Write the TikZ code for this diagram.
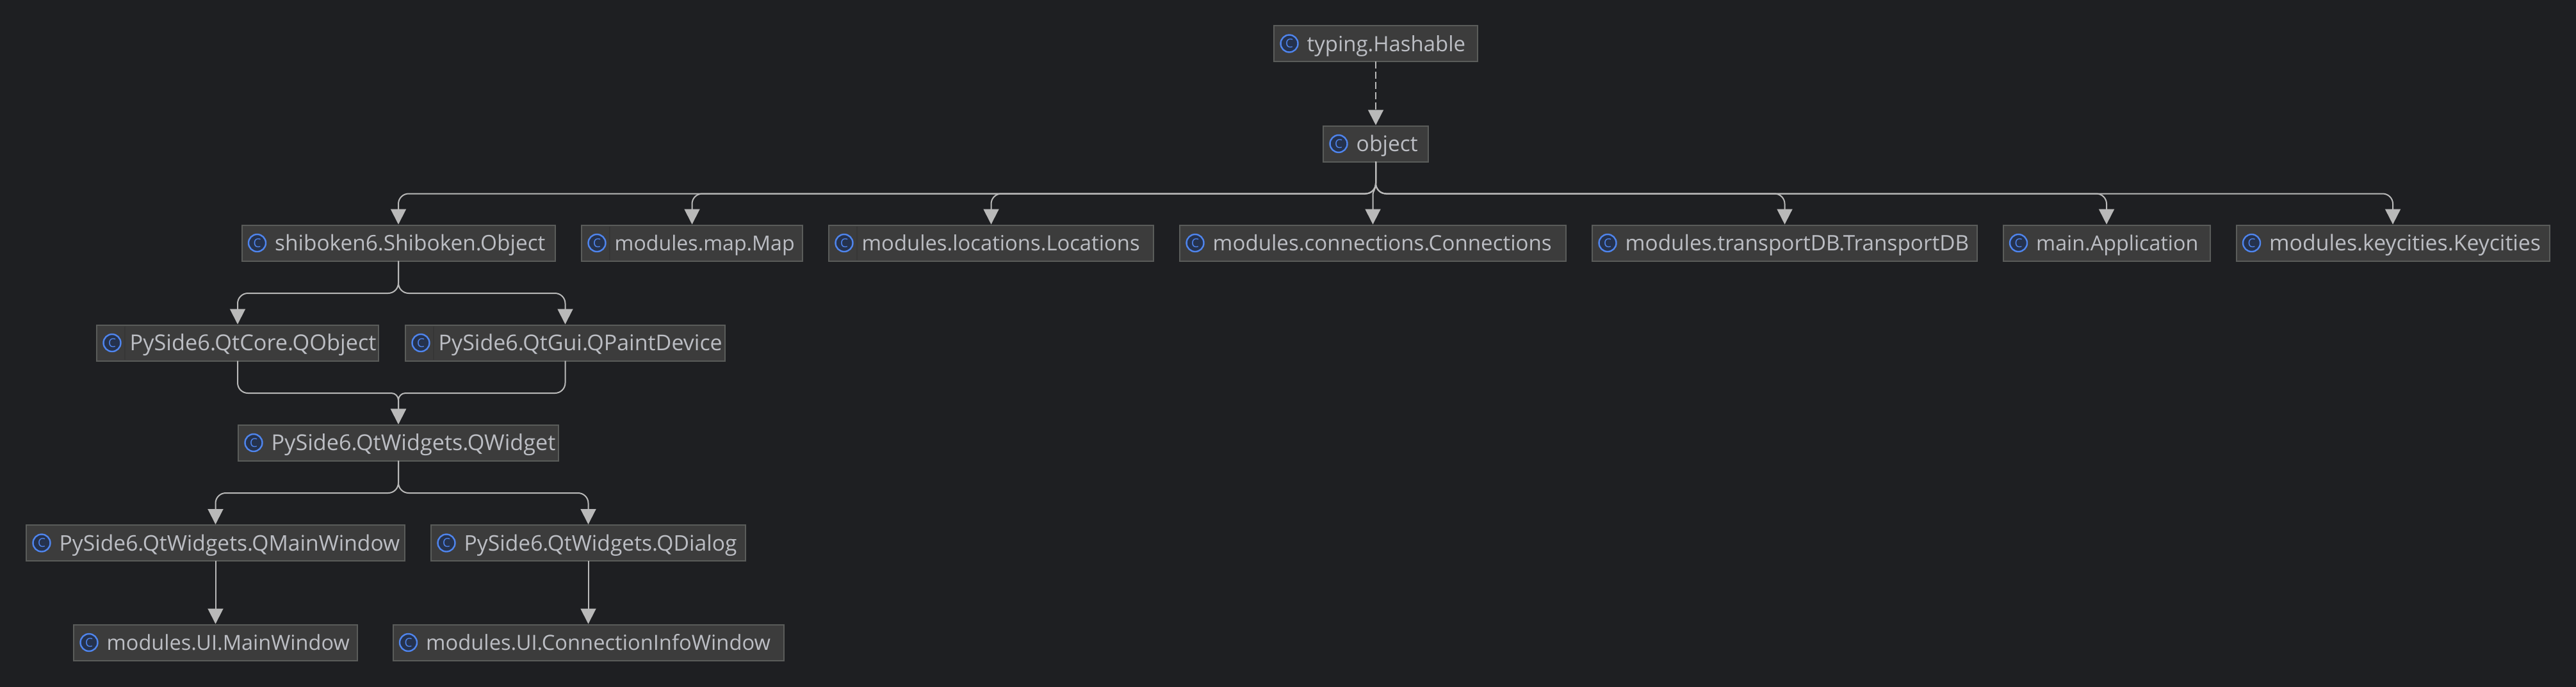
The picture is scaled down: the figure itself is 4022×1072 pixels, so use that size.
\documentclass[tikz,border=0pt]{standalone}
\usepackage{fontspec}
\setmainfont{Open Sans}
\usetikzlibrary{arrows.meta}
\definecolor{pagebg}{HTML}{1E1F22}
\definecolor{boxfill}{HTML}{3C3C3C}
\definecolor{boxline}{HTML}{5A5C5A}
\definecolor{boxsep}{HTML}{363636}
\definecolor{nametext}{HTML}{BCBEC4}
\definecolor{linkcol}{HTML}{B9B9B9}
\definecolor{iconline}{HTML}{4F85EE}
\definecolor{iconfill}{HTML}{25324D}
\tikzset{
  classbox/.style={draw=boxline,fill=boxfill,line width=2pt,minimum height=56pt,inner sep=0pt,outer sep=0pt},
  classicon/.style={circle,draw=iconline,fill=iconfill,line width=2.4pt,minimum size=27pt,inner sep=0pt,text=iconline,font=\fontsize{19}{19}\selectfont},
  classname/.style={anchor=base west,inner sep=0pt,text=nametext,font=\fontsize{#1}{38}\selectfont},
  classsep/.style={draw=boxsep,line width=1.5pt},
  extends/.style={draw=linkcol,line width=2pt,rounded corners=16pt,shorten >=1pt,-{Triangle[width=24pt,length=24pt,fill=linkcol]}},
  implements/.style={extends,dash pattern=on 11pt off 5pt}
}
\begin{document}
\begin{tikzpicture}[x=1pt,y=-1pt]
	\useasboundingbox (0,0) rectangle (4022,1072);
	\fill[pagebg] (-5,-5) rectangle (4027,1077);
	% boxes
	\node[classbox,minimum width=318pt] (hashable) at (2148,68) {};
	\node[classbox,minimum width=164pt] (object) at (2148,224.5) {};
	\node[classbox,minimum width=489pt] (shiboken) at (622,379.5) {};
	\node[classbox,minimum width=345pt] (map) at (1080.5,379.5) {};
	\node[classbox,minimum width=507pt] (locations) at (1547.5,379.5) {};
	\node[classbox,minimum width=603pt] (connections) at (2143.5,379.5) {};
	\node[classbox,minimum width=601pt] (transportdb) at (2786.5,379.5) {};
	\node[classbox,minimum width=323pt] (application) at (3289,379.5) {};
	\node[classbox,minimum width=489pt] (keycities) at (3736,379.5) {};
	\node[classbox,minimum width=440pt] (qobject) at (371,535.5) {};
	\node[classbox,minimum width=499pt] (qpaintdevice) at (882.5,535.5) {};
	\node[classbox,minimum width=500pt] (qwidget) at (622,691.5) {};
	\node[classbox,minimum width=591pt] (qmainwindow) at (336.5,848) {};
	\node[classbox,minimum width=491pt] (qdialog) at (918.5,848) {};
	\node[classbox,minimum width=443pt] (mainwindow) at (336.5,1003.5) {};
	\node[classbox,minimum width=610pt] (connectioninfo) at (918.5,1003.5) {};
	% faint lines beside some of the icons
	\draw[classsep] ([xshift=44pt,yshift=-2pt]map.north west) -- ([xshift=44pt,yshift=2pt]map.south west);
	\draw[classsep] ([xshift=44pt,yshift=-2pt]locations.north west) -- ([xshift=44pt,yshift=2pt]locations.south west);
	\draw[classsep] ([xshift=44pt,yshift=-2pt]qobject.north west) -- ([xshift=44pt,yshift=2pt]qobject.south west);
	\draw[classsep] ([xshift=44pt,yshift=-2pt]qpaintdevice.north west) -- ([xshift=44pt,yshift=2pt]qpaintdevice.south west);
	% icons
	\node[classicon] (hashableicon) at ([xshift=24pt]hashable.west) {C};
	\node[classicon] (objecticon) at ([xshift=24pt]object.west) {C};
	\node[classicon] (shibokenicon) at ([xshift=24pt]shiboken.west) {C};
	\node[classicon] (mapicon) at ([xshift=24pt]map.west) {C};
	\node[classicon] (locationsicon) at ([xshift=24pt]locations.west) {C};
	\node[classicon] (connectionsicon) at ([xshift=24pt]connections.west) {C};
	\node[classicon] (transportdbicon) at ([xshift=24pt]transportdb.west) {C};
	\node[classicon] (applicationicon) at ([xshift=24pt]application.west) {C};
	\node[classicon] (keycitiesicon) at ([xshift=24pt]keycities.west) {C};
	\node[classicon] (qobjecticon) at ([xshift=24pt]qobject.west) {C};
	\node[classicon] (qpaintdeviceicon) at ([xshift=24pt]qpaintdevice.west) {C};
	\node[classicon] (qwidgeticon) at ([xshift=24pt]qwidget.west) {C};
	\node[classicon] (qmainwindowicon) at ([xshift=24pt]qmainwindow.west) {C};
	\node[classicon] (qdialogicon) at ([xshift=24pt]qdialog.west) {C};
	\node[classicon] (mainwindowicon) at ([xshift=24pt]mainwindow.west) {C};
	\node[classicon] (connectioninfoicon) at ([xshift=24pt]connectioninfo.west) {C};
	% names
	\node[classname=32.9] (hashablename) at ([xshift=51.5pt,yshift=-12pt]hashable.west) {typing.Hashable};
	\node[classname=33.6] (objectname) at ([xshift=51.5pt,yshift=-12pt]object.west) {object};
	\node[classname=33.4] (shibokenname) at ([xshift=51.5pt,yshift=-12pt]shiboken.west) {shiboken6.Shiboken.Object};
	\node[classname=32.1] (mapname) at ([xshift=51.5pt,yshift=-12pt]map.west) {modules.map.Map};
	\node[classname=32.8] (locationsname) at ([xshift=51.5pt,yshift=-12pt]locations.west) {modules.locations.Locations};
	\node[classname=33.1] (connectionsname) at ([xshift=51.5pt,yshift=-12pt]connections.west) {modules.connections.Connections};
	\node[classname=33.3] (transportdbname) at ([xshift=51.5pt,yshift=-12pt]transportdb.west) {modules.transportDB.TransportDB};
	\node[classname=32.3] (applicationname) at ([xshift=51.5pt,yshift=-12pt]application.west) {main.Application};
	\node[classname=33.8] (keycitiesname) at ([xshift=51.5pt,yshift=-12pt]keycities.west) {modules.keycities.Keycities};
	\node[classname=34.3] (qobjectname) at ([xshift=51.5pt,yshift=-12pt]qobject.west) {PySide6.QtCore.QObject};
	\node[classname=34] (qpaintdevicename) at ([xshift=51.5pt,yshift=-12pt]qpaintdevice.west) {PySide6.QtGui.QPaintDevice};
	\node[classname=34.2] (qwidgetname) at ([xshift=51.5pt,yshift=-12pt]qwidget.west) {PySide6.QtWidgets.QWidget};
	\node[classname=33.6] (qmainwindowname) at ([xshift=51.5pt,yshift=-12pt]qmainwindow.west) {PySide6.QtWidgets.QMainWindow};
	\node[classname=33.6] (qdialogname) at ([xshift=51.5pt,yshift=-12pt]qdialog.west) {PySide6.QtWidgets.QDialog};
	\node[classname=32.5] (mainwindowname) at ([xshift=51.5pt,yshift=-12pt]mainwindow.west) {modules.UI.MainWindow};
	\node[classname=32.7] (connectioninfoname) at ([xshift=51.5pt,yshift=-12pt]connectioninfo.west) {modules.UI.ConnectionInfoWindow};
	% where the links fork and merge
	\coordinate (objectfork) at (2148,302.5);
	\coordinate (shibokenfork) at (622,458);
	\coordinate (qwidgetmerge) at (622,614);
	\coordinate (qwidgetfork) at (622,770);
	% links
	\draw[implements] (hashable.south) -- (object.north);
	\draw[extends] (object.south) -- (objectfork) -- (objectfork -| shiboken.north) -- (shiboken.north);
	\draw[extends] (object.south) -- (objectfork) -- (objectfork -| map.north) -- (map.north);
	\draw[extends] (object.south) -- (objectfork) -- (objectfork -| locations.north) -- (locations.north);
	\draw[extends,sharp corners] (object.south) -- ([yshift=-33pt]object.south) .. controls +(0,12) and +(0,-8) .. ([yshift=-2.5pt]objectfork -| connections.north) -- (connections.north);
	\draw[extends] (object.south) -- (objectfork) -- (objectfork -| transportdb.north) -- (transportdb.north);
	\draw[extends] (object.south) -- (objectfork) -- (objectfork -| application.north) -- (application.north);
	\draw[extends] (object.south) -- (objectfork) -- (objectfork -| keycities.north) -- (keycities.north);
	\draw[extends] (shiboken.south) -- (shibokenfork) -- (shibokenfork -| qobject.north) -- (qobject.north);
	\draw[extends] (shiboken.south) -- (shibokenfork) -- (shibokenfork -| qpaintdevice.north) -- (qpaintdevice.north);
	\draw[extends] (qobject.south) -- (qobject.south |- qwidgetmerge) [rounded corners=11pt] -- (qwidgetmerge) -- (qwidget.north);
	\draw[extends] (qpaintdevice.south) -- (qpaintdevice.south |- qwidgetmerge) [rounded corners=11pt] -- (qwidgetmerge) -- (qwidget.north);
	\draw[extends] (qwidget.south) -- (qwidgetfork) -- (qwidgetfork -| qmainwindow.north) -- (qmainwindow.north);
	\draw[extends] (qwidget.south) -- (qwidgetfork) -- (qwidgetfork -| qdialog.north) -- (qdialog.north);
	\draw[extends] (qmainwindow.south) -- (mainwindow.north);
	\draw[extends] (qdialog.south) -- (connectioninfo.north);
\end{tikzpicture}
\end{document}
